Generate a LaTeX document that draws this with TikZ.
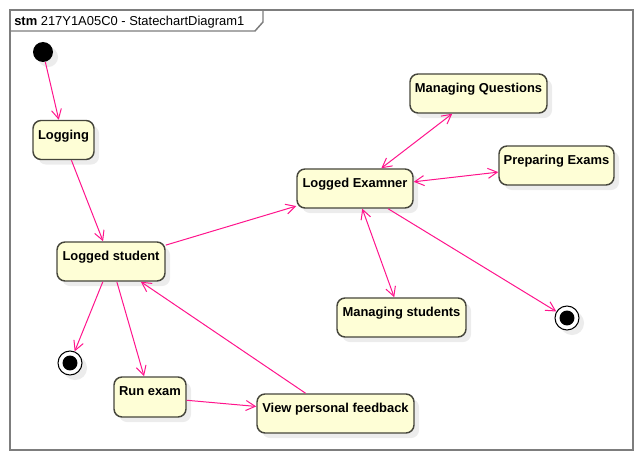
\documentclass[tikz,border=0pt]{standalone}
\usepackage{fontspec}
\setmainfont{Liberation Sans}
\usetikzlibrary{arrows.meta,shadows}
\definecolor{arrowc}{RGB}{255,20,140}
\definecolor{statefill}{RGB}{254,254,214}
\definecolor{stateborder}{RGB}{70,70,60}
\definecolor{framec}{RGB}{125,125,125}
\definecolor{shadowc}{RGB}{236,236,236}
\begin{document}
\begin{tikzpicture}[x=0.75pt,y=-0.75pt,
  shd/.style={drop shadow={shadow xshift=3.8pt, shadow yshift=-3.8pt, fill=shadowc, opacity=1}},
  statebox/.style={draw=stateborder, line width=1.1pt, fill=statefill, rounded corners=6pt,
    inner xsep=0pt, inner ysep=0pt, text height=13.9pt, text depth=15.35pt,
    minimum height=29.25pt, font=\fontsize{9.7}{11}\selectfont\bfseries, shd},
  initst/.style={circle, fill=black, inner sep=0pt, minimum size=15pt, shd},
  finalst/.style={circle, draw=black, line width=0.8pt, fill=white, inner sep=0pt, minimum size=18pt, shd,
    path picture={\fill[black] (path picture bounding box.center) circle (5.6pt);}},
  arr/.style={draw=arrowc, line width=0.75pt, -{Straight Barb[length=7pt,width=7.5pt]}},
  arrb/.style={draw=arrowc, line width=0.75pt, {Straight Barb[length=7pt,width=7.5pt]}-{Straight Barb[length=7pt,width=7.5pt]}},
  framest/.style={draw=framec, line width=1.1pt}
]
\useasboundingbox (0,0) rectangle (644,460);
\draw[framest] (10,10) rectangle (633,450);
\draw[framest] (10,31) -- (255,31) -- (263,22) -- (263,10);
\node[anchor=base west, inner sep=0pt, font=\fontsize{9.7}{11}\selectfont] (title) at (14,26) {\textbf{stm} 217Y1A05C0 - StatechartDiagram1};

\node[initst] (init) at (43,52) {};
\node[statebox, minimum width=45.75pt] (logging) at (63.5,140) {Logging};
\node[statebox, minimum width=81pt] (lstudent) at (111,261.5) {Logged student};
\node[statebox, minimum width=87pt] (lexam) at (355,188.5) {Logged Examner};
\node[statebox, minimum width=102.75pt] (mq) at (478.5,93.5) {Managing Questions};
\node[statebox, minimum width=86.25pt] (pe) at (556.5,165.5) {Preparing Exams};
\node[statebox, minimum width=96.75pt] (ms) at (401.5,317.5) {Managing students};
\node[statebox, minimum width=117.75pt] (vpf) at (335.5,413.5) {View personal feedback};
\node[statebox, minimum width=54pt, minimum height=30pt, text depth=16.1pt] (run) at (150,397) {Run exam};
\node[finalst] (f1) at (70,363) {};
\node[finalst] (f2) at (567,318) {};

\draw[arr] (init) -- (logging);
\draw[arr] (logging) -- (lstudent);
\draw[arr] (lstudent) -- (lexam);
\draw[arr] (lstudent) -- (f1);
\draw[arr] (lstudent) -- (run);
\draw[arr] (run) -- (vpf);
\draw[arr] (vpf) -- (lstudent);
\draw[arrb] (lexam) -- (mq);
\draw[arrb] (lexam) -- (pe);
\draw[arrb] (lexam) -- (ms);
\draw[arr] (lexam) -- (f2);
\end{tikzpicture}
\end{document}
